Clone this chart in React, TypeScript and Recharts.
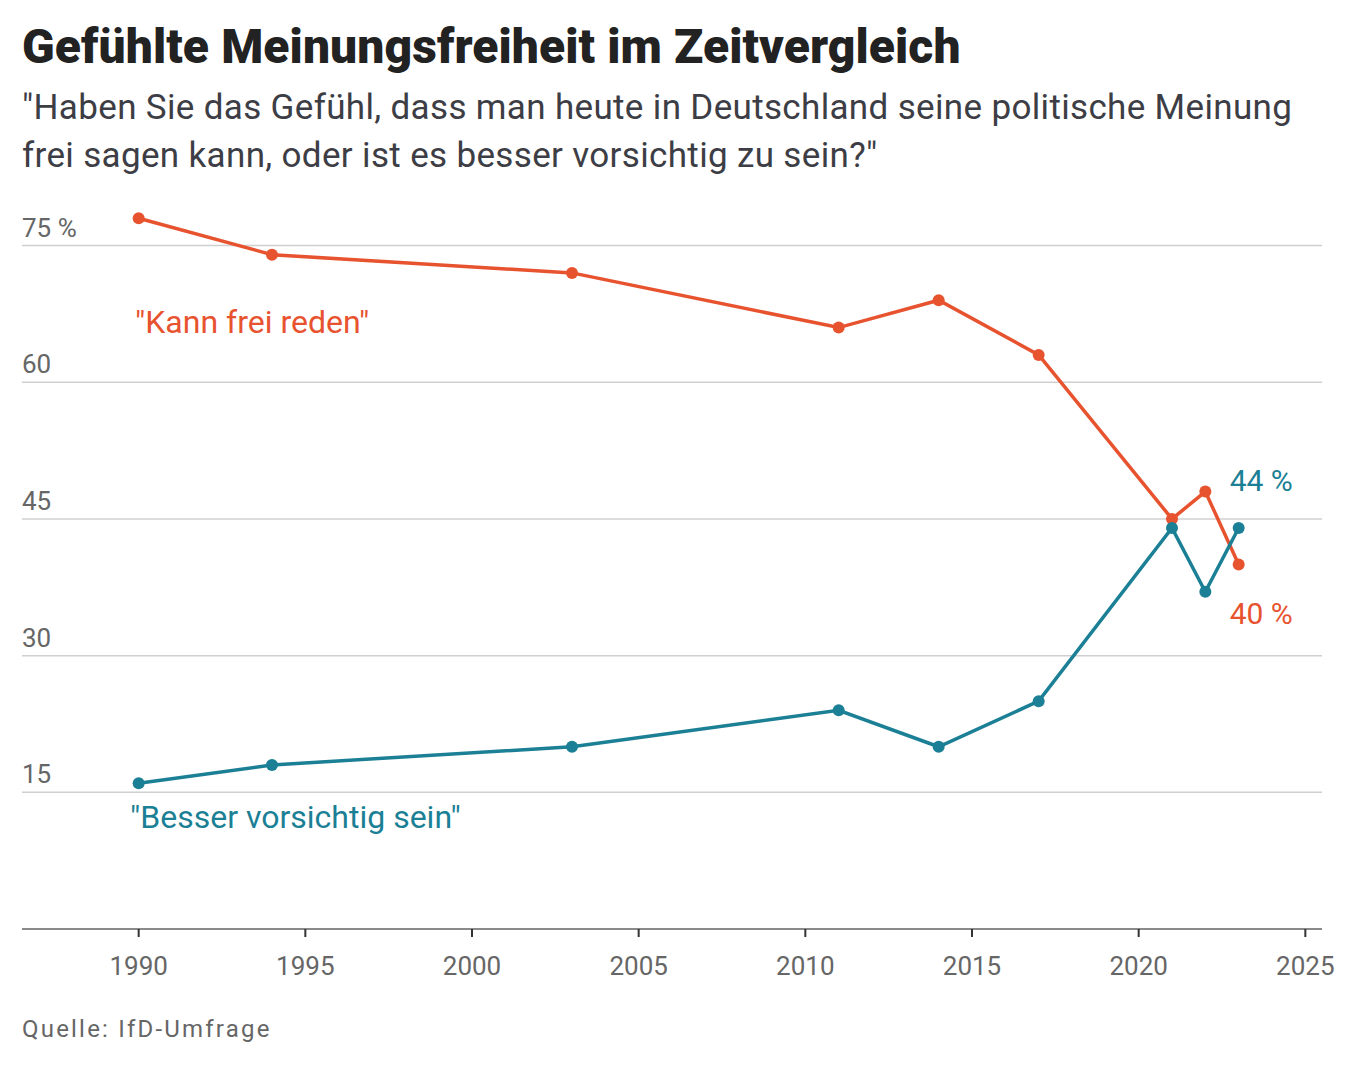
import { LabelList, Line, LineChart, ReferenceLine, XAxis, YAxis } from "recharts";

const years = [1990, 1994, 2003, 2011, 2014, 2017, 2021, 2022, 2023];
const freiReden = [78, 74, 72, 66, 69, 63, 45, 48, 40];
const vorsichtig = [16, 18, 20, 24, 20, 25, 44, 37, 44];
const yTicks = [15, 30, 45, 60, 75];
const xTicks = [1990, 1995, 2000, 2005, 2010, 2015, 2020, 2025];

const data = years.map((year, i) => ({
  year,
  frei: freiReden[i],
  vorsichtig: vorsichtig[i],
}));

const ORANGE = "#e8532f";
const TEAL = "#1b7f95";
const FONT = "Roboto, 'Noto Sans', sans-serif";

// y tick label sits just above its gridline, left aligned
const gridLabel = (value: number) => (props: any) => {
  const { viewBox } = props;
  const label = value === 75 ? "75 %" : String(value);
  return (
    <text x={viewBox.x} y={viewBox.y - 9} fill="#666" fontSize={26} fontFamily={FONT}>
      {label}
    </text>
  );
};

function endLabel(color: string, dy: number) {
  return (props: any) => {
    const { x, y, index, value } = props;
    if (index !== years.length - 1) return null;
    return (
      <text x={x - 9} y={y + dy} fill={color} fontSize={30} fontFamily={FONT}>
        {`${value} %`}
      </text>
    );
  };
}

export default function App() {
  return (
    <div
      style={{
        position: "absolute",
        top: 0,
        left: 0,
        width: 1360,
        height: 1068,
        background: "#fff",
        fontFamily: FONT,
      }}
    >
      <div
        style={{
          position: "absolute",
          left: 22,
          top: 23,
          fontSize: 48,
          lineHeight: 1,
          fontWeight: 900,
          color: "#222",
          letterSpacing: 0.1,
          whiteSpace: "nowrap",
        }}
      >
        Gefühlte Meinungsfreiheit im Zeitvergleich
      </div>
      <div
        style={{
          position: "absolute",
          left: 22,
          top: 84,
          fontSize: 35,
          lineHeight: "48px",
          color: "#3d3d45",
          letterSpacing: 0.34,
          whiteSpace: "nowrap",
        }}
      >
        "Haben Sie das Gefühl, dass man heute in Deutschland seine politische Meinung
        <br />
        frei sagen kann, oder ist es besser vorsichtig zu sein?"
      </div>

      <div style={{ position: "absolute", left: 0, top: 0 }}>
        <LineChart
          width={1360}
          height={1000}
          data={data}
          margin={{ top: 200, right: 38, bottom: 21, left: 22 }}
        >
          <XAxis
            dataKey="year"
            type="number"
            domain={[1986.5, 2025.5]}
            ticks={xTicks}
            allowDataOverflow
            height={50}
            axisLine={{ stroke: "#8a8a8a", strokeWidth: 2 }}
            tickLine={{ stroke: "#333", strokeWidth: 2 }}
            tickSize={8}
            tickMargin={20}
            tick={{ fill: "#666", fontSize: 26, fontFamily: FONT }}
          />
          <YAxis type="number" domain={[0, 80]} hide />
          {yTicks.map((t) => (
            <ReferenceLine
              key={t}
              y={t}
              stroke="#d0d0d0"
              strokeWidth={1.5}
              label={gridLabel(t)}
            />
          ))}
          <Line
            dataKey="frei"
            stroke={ORANGE}
            strokeWidth={3.5}
            dot={{ r: 6, fill: ORANGE, stroke: ORANGE, strokeWidth: 0 }}
            isAnimationActive={false}
          >
            <LabelList dataKey="frei" content={endLabel(ORANGE, 59)} />
          </Line>
          <Line
            dataKey="vorsichtig"
            stroke={TEAL}
            strokeWidth={3.5}
            dot={{ r: 6, fill: TEAL, stroke: TEAL, strokeWidth: 0 }}
            isAnimationActive={false}
          >
            <LabelList dataKey="vorsichtig" content={endLabel(TEAL, -37)} />
          </Line>
        </LineChart>
      </div>

      <div
        style={{
          position: "absolute",
          left: 135,
          top: 306,
          fontSize: 32,
          lineHeight: 1,
          color: ORANGE,
          whiteSpace: "nowrap",
        }}
      >
        "Kann frei reden"
      </div>
      <div
        style={{
          position: "absolute",
          left: 130,
          top: 801,
          fontSize: 32,
          lineHeight: 1,
          color: TEAL,
          whiteSpace: "nowrap",
        }}
      >
        "Besser vorsichtig sein"
      </div>
      <div
        style={{
          position: "absolute",
          left: 22,
          top: 1017,
          fontSize: 24,
          lineHeight: 1,
          color: "#666",
          letterSpacing: 2.2,
          whiteSpace: "nowrap",
        }}
      >
        Quelle: IfD-Umfrage
      </div>
    </div>
  );
}
